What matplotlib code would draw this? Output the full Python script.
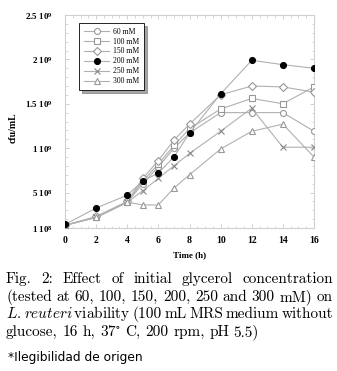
import matplotlib
matplotlib.use("Agg")
import matplotlib.pyplot as plt
from matplotlib.lines import Line2D

# ---- data ----
time_h = [0, 2, 4, 5, 6, 7, 8, 10, 12, 14, 16]
series_labels = ["60 mM", "100 mM", "150 mM", "200 mM", "250 mM", "300 mM"]
c60  = [1.3e8, 2.2e8, 3.9e8, 6.0e8, 7.9e8, 1.00e9, 1.17e9, 1.40e9, 1.40e9, 1.40e9, 1.19e9]
c100 = [1.3e8, 2.2e8, 3.9e8, 6.3e8, 8.2e8, 1.03e9, 1.22e9, 1.44e9, 1.56e9, 1.50e9, 1.69e9]
c150 = [1.3e8, 2.3e8, 4.0e8, 6.6e8, 8.6e8, 1.09e9, 1.27e9, 1.60e9, 1.70e9, 1.69e9, 1.63e9]
c200 = [1.4e8, 3.25e8, 4.7e8, 6.3e8, 7.2e8, 9.0e8, 1.17e9, 1.61e9, 1.99e9, 1.94e9, 1.90e9]
c250 = [1.3e8, 2.2e8, 3.9e8, 5.2e8, 6.6e8, 8.0e8, 9.4e8, 1.19e9, 1.45e9, 1.01e9, 1.01e9]
c300 = [1.3e8, 2.2e8, 3.9e8, 3.6e8, 3.6e8, 5.5e8, 7.0e8, 0.99e9, 1.19e9, 1.27e9, 0.90e9]
x_ticks = [0, 2, 4, 6, 8, 10, 12, 14, 16]
y_ticks = [1e8, 5e8, 1e9, 1.5e9, 2e9, 2.5e9]
y_ticklabels = ["1 10$^8$", "5 10$^8$", "1 10$^9$", "1.5 10$^9$", "2 10$^9$", "2.5 10$^9$"]

plt.rcParams["mathtext.default"] = "regular"
serif = "Liberation Serif"

fig = plt.figure(figsize=(3.37, 3.71), dpi=100)
W, H = 337, 371
ax = fig.add_axes([65 / W, 1 - 228 / H, 249 / W, 213 / H])

line_col = "#b0b0b0"
mk_col = "#989898"
styles = [
    dict(marker="o", mfc="white", mec=mk_col, ms=4.3, mew=0.8),
    dict(marker="s", mfc="white", mec=mk_col, ms=4.0, mew=0.8),
    dict(marker="D", mfc="white", mec=mk_col, ms=3.6, mew=0.8),
    dict(marker="o", mfc="black", mec="black", ms=4.3, mew=0.8),
    dict(marker="x", mfc="none", mec="#888888", ms=4.3, mew=0.8),
    dict(marker="^", mfc="white", mec=mk_col, ms=4.3, mew=0.8),
]
data = [c60, c100, c150, c200, c250, c300]
order = [0, 1, 2, 4, 5, 3]
for i in order:
    ax.plot(time_h, data[i], color=line_col, lw=0.8, label=series_labels[i],
            zorder=3 + (1 if i == 3 else 0), **styles[i])

ax.set_xlim(0, 16)
ax.set_ylim(1e8, 2.5e9)
ax.set_xticks(x_ticks)
ax.set_xticklabels([str(t) for t in x_ticks], fontfamily=serif, fontweight="bold", fontsize=7)
ax.set_yticks(y_ticks)
ax.set_yticklabels(y_ticklabels, fontfamily=serif, fontweight="bold", fontsize=6.5)
ax.minorticks_on()
ax.tick_params(which="both", direction="in", color="#c8c8c8", top=True, right=True)
ax.tick_params(which="major", length=3, width=0.6)
ax.tick_params(which="minor", length=1.8, width=0.5)
ax.tick_params(axis="y", pad=9)
ax.tick_params(axis="x", pad=6)
for s in ax.spines.values():
    s.set_color("#d0d0d0")
    s.set_linewidth(0.8)
ax.set_xlabel("Time (h)", fontfamily=serif, fontweight="bold", fontsize=6.5, labelpad=4)
ax.set_ylabel("cfu/mL", fontfamily=serif, fontweight="bold", fontsize=7)
ax.yaxis.set_label_coords((18 - 65) / 249, (228 - 128) / 213)

handles = [Line2D([], [], color=line_col, lw=0.8, **styles[i]) for i in range(6)]
leg = ax.legend(handles, series_labels, loc="upper left", bbox_to_anchor=(0.056, 0.962),
                prop={"family": serif, "size": 5.5}, frameon=True, fancybox=False,
                shadow=True, labelspacing=0.25, handlelength=3.4, borderpad=0.6,
                handletextpad=0.5, borderaxespad=0)
leg.get_frame().set_edgecolor("black")
leg.get_frame().set_linewidth(0.6)

# ---- caption with justified lines ----
renderer = fig.canvas.get_renderer()
cap_size = 11.0
cap_font = ["cmr10", "DejaVu Serif"]
left_px, right_px = 6, 333

def put_line(words, y_px, justify=True):
    texts = []
    for w in words:
        t = fig.text(0, 1 - y_px / H, w, fontsize=cap_size, fontfamily=cap_font,
                     math_fontfamily="cm", va="baseline", ha="left")
        texts.append(t)
    widths = [t.get_window_extent(renderer).width for t in texts]
    total = sum(widths)
    n = len(texts)
    if justify and n > 1:
        gap = (right_px - left_px - total) / (n - 1)
    else:
        gap = 4.6
    x = left_px
    for t, w in zip(texts, widths):
        t.set_x(x / W)
        x += w + gap

L1 = "Fig. 2: Effect of initial glycerol concentration".split()
L2 = "(tested at 60, 100, 150, 200, 250 and 300 mM) on".split()
L3 = [r"$\mathit{L.}$", r"$\mathit{reuteri}\,$viability"] + "(100 mL MRS medium without".split()
L4 = ["glucose,", "16", "h,", r"37$^{\circ}$", "C,", "200", "rpm,", "pH", "5.5)"]
put_line(L1, 283)
put_line(L2, 301)
put_line(L3, 318)
put_line(L4, 336, justify=False)

fig.text(8 / W, 1 - 361 / H, "*Ilegibilidad de origen", fontsize=8.8,
         fontfamily="DejaVu Sans", va="baseline", ha="left")

fig.savefig("out.png", dpi=100)
